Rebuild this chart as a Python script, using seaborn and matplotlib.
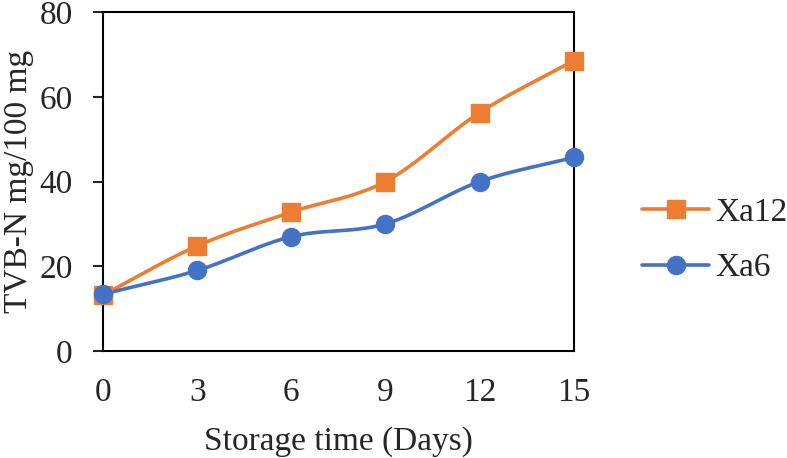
import numpy as np
import seaborn as sns
import matplotlib.pyplot as plt
from matplotlib.lines import Line2D

days = [0, 3, 6, 9, 12, 15]
xa12 = [13.2, 24.8, 32.8, 40.0, 56.3, 68.6]
xa6 = [13.4, 19.0, 27.0, 30.0, 40.0, 45.7]
series_names = ["Xa12", "Xa6"]

ORANGE = "#ED7D31"
BLUE = "#4472C4"


def smooth(x, y, n=30):
    # catmull-rom curve through the points, similar to Excel's smoothed line
    x = np.asarray(x, float)
    y = np.asarray(y, float)
    px = np.concatenate([[2 * x[0] - x[1]], x, [2 * x[-1] - x[-2]]])
    py = np.concatenate([[2 * y[0] - y[1]], y, [2 * y[-1] - y[-2]]])
    xs, ys = [], []
    t = np.linspace(0, 1, n)
    for i in range(1, len(px) - 2):
        for p, out in ((px, xs), (py, ys)):
            p0, p1, p2, p3 = p[i - 1], p[i], p[i + 1], p[i + 2]
            out.extend(0.5 * ((2 * p1) + (-p0 + p2) * t
                              + (2 * p0 - 5 * p1 + 4 * p2 - p3) * t ** 2
                              + (-p0 + 3 * p1 - 3 * p2 + p3) * t ** 3))
    return np.array(xs), np.array(ys)


sns.set_style("white")
plt.rcParams["font.family"] = ["Liberation Serif", "DejaVu Serif"]
FS = 24

fig = plt.figure(figsize=(7.87, 4.58), dpi=100)
ax = fig.add_axes([0.131, 0.234, 0.598, 0.739])

sx, sy = smooth(days, xa12)
sns.lineplot(x=sx, y=sy, ax=ax, color=ORANGE, linewidth=2.6, sort=False)
sx, sy = smooth(days, xa6)
sns.lineplot(x=sx, y=sy, ax=ax, color=BLUE, linewidth=2.6, sort=False)

ax.plot(days, xa12, linestyle="none", marker="s", markersize=12.5,
        color=ORANGE, clip_on=False, zorder=5)
ax.plot(days, xa6, linestyle="none", marker="o", markersize=13,
        color=BLUE, clip_on=False, zorder=6)

ax.set_xlim(0, 15)
ax.set_ylim(0, 80)
ax.set_xticks(days)
ax.set_yticks([0, 20, 40, 60, 80])
ax.tick_params(axis="x", length=0, pad=19, labelsize=FS)
ax.tick_params(axis="y", length=7, width=1.5, direction="out", pad=15,
               labelsize=FS, left=True)
for s in ax.spines.values():
    s.set_linewidth(1.5)
    s.set_color("black")

ax.set_xlabel("Storage time (Days)", fontsize=FS, labelpad=13)
ax.set_ylabel("TVB-N mg/100 mg", fontsize=FS, labelpad=4)

handles = [
    Line2D([], [], color=ORANGE, linewidth=2.6, marker="s", markersize=12.5),
    Line2D([], [], color=BLUE, linewidth=2.6, marker="o", markersize=13),
]
fig.legend(handles, series_names, loc="center left",
           bbox_to_anchor=(0.816, 0.475), frameon=False, fontsize=FS,
           handlelength=2.0, handletextpad=0.2, labelspacing=0.75,
           borderaxespad=0, borderpad=0)

fig.savefig("out.png", dpi=100)
